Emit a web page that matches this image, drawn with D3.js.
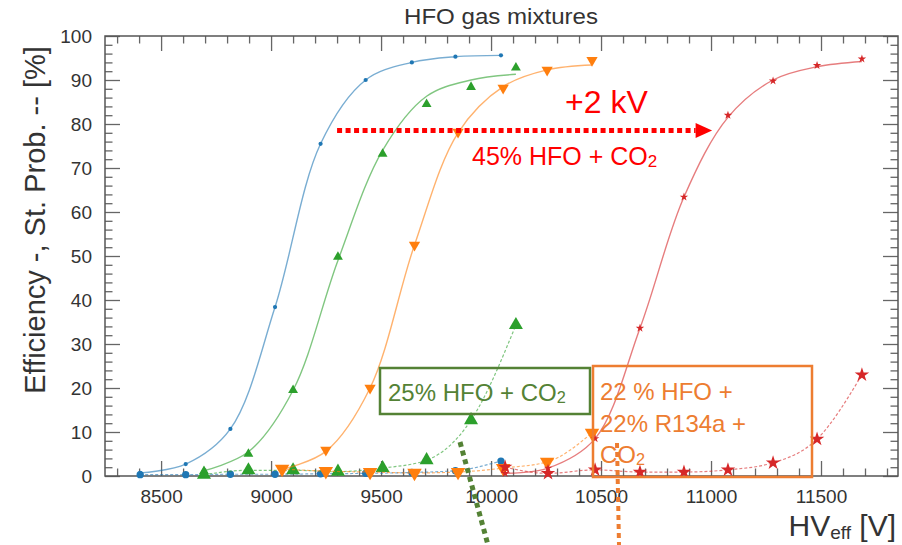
<!DOCTYPE html>
<html>
<head>
<meta charset="utf-8">
<script src="https://cdn.jsdelivr.net/npm/d3@7"></script>
<style>
	body { margin: 0; background: #fff; }
	text { font-family: "Liberation Sans", Arial, sans-serif; }
</style>
</head>
<body>
<script>
// --- data ---
var blueHV = [8405, 8612, 8815, 9018, 9225, 9430, 9640, 9838, 10045];
var blueEff = [0.7, 2.7, 10.7, 38.4, 75.5, 90.0, 94.0, 95.3, 95.6];
var blueSt = [0.3, 0.3, 0.4, 0.4, 0.5, 0.6, 0.8, 1.2, 3.4];

var greenHV = [8695, 8897, 9100, 9304, 9507, 9707, 9909, 10113];
var greenEff = [1.1, 5.0, 19.5, 49.8, 73.2, 84.5, 88.4, 92.8];
var greenFit = [1.2, 5.5, 19.5, 49.0, 74.0, 86.3, 90.0, 91.3];
var greenSt = [0.3, 1.3, 1.3, 1.0, 1.8, 3.6, 12.7, 34.3];

var orangeHV = [9050, 9249, 9450, 9652, 9850, 10055, 10255, 10459];
var orangeEff = [1.5, 5.9, 20.0, 52.5, 78.2, 88.2, 92.3, 94.5];
var orangeFit = [1.5, 5.6, 20.0, 52.5, 78.0, 88.5, 92.3, 93.4];
var orangeSt = [1.6, 1.1, 0.9, 0.7, 0.9, 1.8, 3.2, 9.8];

var redHV = [10064, 10259, 10473, 10677, 10877, 11077, 11282, 11482, 11686];
var redEff = [0.6, 1.8, 8.5, 33.6, 63.4, 82.0, 89.8, 93.3, 94.8];
var redFit = [0.6, 1.8, 8.5, 33.6, 63.4, 81.5, 90.0, 93.0, 94.2];
var redSt = [2.0, 0.6, 1.4, 0.9, 0.9, 1.4, 3.0, 8.4, 23.0];

var xMajor = [8500, 9000, 9500, 10000, 10500, 11000, 11500];
var yMajor = [0, 10, 20, 30, 40, 50, 60, 70, 80, 90, 100];

var W = 902, H = 545;
var plot = { left: 105, right: 898, top: 36, bottom: 476 };

var x = d3.scaleLinear().domain([8245, 11850]).range([plot.left, plot.right]);
var y = d3.scaleLinear().domain([0, 100]).range([plot.bottom, plot.top]);

var svg = d3.select('body').append('svg')
	.attr('width', W)
	.attr('height', H);

// title
svg.append('text')
	.attr('x', 501).attr('y', 24)
	.attr('text-anchor', 'middle')
	.attr('font-size', 22)
	.attr('fill', '#333')
	.attr('textLength', 194)
	.attr('lengthAdjust', 'spacingAndGlyphs')
	.text('HFO gas mixtures');

// axes, ticks drawn inward, long on the majors
var xTicks = d3.range(8300, 11900, 100),
	yTicks = d3.range(0, 101, 2);

function isMajorX(v) { return xMajor.indexOf(v) >= 0; }
function isMajorY(v) { return yMajor.indexOf(v) >= 0; }

function styleAxis(g, majorFn, sign, horiz) {
	g.select('.domain').remove();
	g.selectAll('.tick line')
		.attr('stroke', '#666')
		.attr('stroke-width', 1.3)
		.attr(horiz ? 'y2' : 'x2', function(d) { return sign * (majorFn(d) ? 15 : 7.5); });
	g.selectAll('.tick text')
		.attr('fill', '#333')
		.attr('font-size', 19)
		.attr('font-family', '"Liberation Sans", Arial, sans-serif');
}

svg.append('g')
	.attr('transform', 'translate(0,' + plot.bottom + ')')
	.call(d3.axisBottom(x).tickValues(xTicks).tickSizeInner(-15).tickSizeOuter(0).tickPadding(14)
		.tickFormat(function(d) { return isMajorX(d) ? d : ''; }))
	.call(styleAxis, isMajorX, -1, true);

svg.append('g')
	.attr('transform', 'translate(0,' + plot.top + ')')
	.call(d3.axisTop(x).tickValues(xTicks).tickSizeInner(-15).tickSizeOuter(0).tickFormat(''))
	.call(styleAxis, isMajorX, 1, true);

svg.append('g')
	.attr('transform', 'translate(' + plot.left + ',0)')
	.call(d3.axisLeft(y).tickValues(yTicks).tickSizeInner(-15).tickSizeOuter(0).tickPadding(13)
		.tickFormat(function(d) { return isMajorY(d) ? d : ''; }))
	.call(styleAxis, isMajorY, 1, false);

svg.append('g')
	.attr('transform', 'translate(' + plot.right + ',0)')
	.call(d3.axisRight(y).tickValues(yTicks).tickSizeInner(-15).tickSizeOuter(0).tickFormat(''))
	.call(styleAxis, isMajorY, -1, false);

svg.append('rect')
	.attr('x', plot.left).attr('y', plot.top)
	.attr('width', plot.right - plot.left)
	.attr('height', plot.bottom - plot.top)
	.attr('fill', 'none')
	.attr('stroke', '#555')
	.attr('stroke-width', 1.5);

// axis titles
svg.append('text')
	.attr('transform', 'translate(45,220)rotate(-90)')
	.attr('text-anchor', 'middle')
	.attr('font-size', 29)
	.attr('fill', '#333')
	.text('Efficiency -, St. Prob. -- [%]');

var xt = svg.append('text')
	.attr('x', 896).attr('y', 536)
	.attr('text-anchor', 'end')
	.attr('font-size', 30)
	.attr('fill', '#333');
xt.append('tspan').text('HV');
xt.append('tspan').attr('font-size', 19).attr('dy', 3).text('eff');
xt.append('tspan').attr('dy', -3).text(' [V]');

// series
var series = [
	{ hv: blueHV, eff: blueEff, fit: blueEff, st: blueSt, color: '#1f77b4', sym: d3.symbolCircle, effSize: 14, stSize: 42, rot: 0 },
	{ hv: greenHV, eff: greenEff, fit: greenFit, st: greenSt, color: '#2ca02c', sym: d3.symbolTriangle, effSize: 42, stSize: 85, rot: 0 },
	{ hv: orangeHV, eff: orangeEff, fit: orangeFit, st: orangeSt, color: '#ff7f0e', sym: d3.symbolTriangle, effSize: 55, stSize: 90, rot: 180 },
	{ hv: redHV, eff: redEff, fit: redFit, st: redSt, color: '#d62728', sym: d3.symbolStar, effSize: 22, stSize: 65, rot: 0 }
];

var fitLine = d3.line().curve(d3.curveCatmullRom.alpha(0.5))
	.x(function(d) { return x(d[0]); })
	.y(function(d) { return y(d[1]); });
var stLine = d3.line().curve(d3.curveMonotoneX)
	.x(function(d) { return x(d[0]); })
	.y(function(d) { return y(d[1]); });

var marks = svg.append('g');

series.forEach(function(s) {
	var fitPts = d3.zip(s.hv, s.fit),
		effPts = d3.zip(s.hv, s.eff),
		stPts = d3.zip(s.hv, s.st);

	marks.append('path')
		.attr('d', stLine(stPts))
		.attr('fill', 'none')
		.attr('stroke', s.color)
		.attr('stroke-opacity', 0.6)
		.attr('stroke-width', 1.2)
		.attr('stroke-dasharray', '3,2');

	marks.append('path')
		.attr('d', fitLine(fitPts))
		.attr('fill', 'none')
		.attr('stroke', s.color)
		.attr('stroke-opacity', 0.6)
		.attr('stroke-width', 1.4);

	marks.selectAll(null).data(stPts).enter().append('path')
		.attr('d', d3.symbol().type(s.sym).size(s.stSize))
		.attr('transform', function(d) { return 'translate(' + x(d[0]) + ',' + y(d[1]) + ')rotate(' + s.rot + ')'; })
		.attr('fill', s.color);

	marks.selectAll(null).data(effPts).enter().append('path')
		.attr('d', d3.symbol().type(s.sym).size(s.effSize))
		.attr('transform', function(d) { return 'translate(' + x(d[0]) + ',' + y(d[1]) + ')rotate(' + s.rot + ')'; })
		.attr('fill', s.color);
});

// annotations
var red = '#ff0000', dkgreen = '#548235', orange = '#ed7d31';

var ay = y(78.5);
svg.append('line')
	.attr('x1', x(9300)).attr('x2', x(10930))
	.attr('y1', ay).attr('y2', ay)
	.attr('stroke', red)
	.attr('stroke-width', 5)
	.attr('stroke-dasharray', '5,3.5');
svg.append('path')
	.attr('d', 'M' + x(10930) + ',' + (ay - 7.5) + 'L' + x(11005) + ',' + ay + 'L' + x(10930) + ',' + (ay + 7.5) + 'Z')
	.attr('fill', red);

svg.append('text')
	.attr('x', 565).attr('y', 113)
	.attr('font-size', 32)
	.attr('fill', red)
	.text('+2 kV');

function co2Label(x0, y0, size, color, prefix) {
	var t = svg.append('text')
		.attr('x', x0).attr('y', y0)
		.attr('font-size', size)
		.attr('fill', color);
	t.append('tspan').text(prefix + 'CO');
	t.append('tspan').attr('font-size', size * 0.68).attr('dy', 2).text('2');
	return t;
}

co2Label(472, 165, 25, red, '45% HFO + ');

// green box
svg.append('rect')
	.attr('x', 380).attr('y', 368)
	.attr('width', 210).attr('height', 46)
	.attr('fill', 'none')
	.attr('stroke', dkgreen)
	.attr('stroke-width', 2.5);
co2Label(388, 401, 24, dkgreen, '25% HFO + ');

// orange box
svg.append('rect')
	.attr('x', 593).attr('y', 366)
	.attr('width', 219).attr('height', 111)
	.attr('fill', 'none')
	.attr('stroke', orange)
	.attr('stroke-width', 2.5);
svg.append('text')
	.attr('x', 600).attr('y', 400)
	.attr('font-size', 24)
	.attr('fill', orange)
	.text('22 % HFO +');
svg.append('text')
	.attr('x', 600).attr('y', 432)
	.attr('font-size', 24)
	.attr('fill', orange)
	.text('22% R134a +');
co2Label(600, 463, 24, orange, '');

// dotted pointers below the axis
svg.append('line')
	.attr('x1', 460).attr('y1', 442)
	.attr('x2', 488).attr('y2', 545)
	.attr('stroke', dkgreen)
	.attr('stroke-width', 5)
	.attr('stroke-dasharray', '5,4');
svg.append('line')
	.attr('x1', 617).attr('y1', 443)
	.attr('x2', 619).attr('y2', 545)
	.attr('stroke', orange)
	.attr('stroke-width', 4)
	.attr('stroke-dasharray', '5,4');
</script>
</body>
</html>
